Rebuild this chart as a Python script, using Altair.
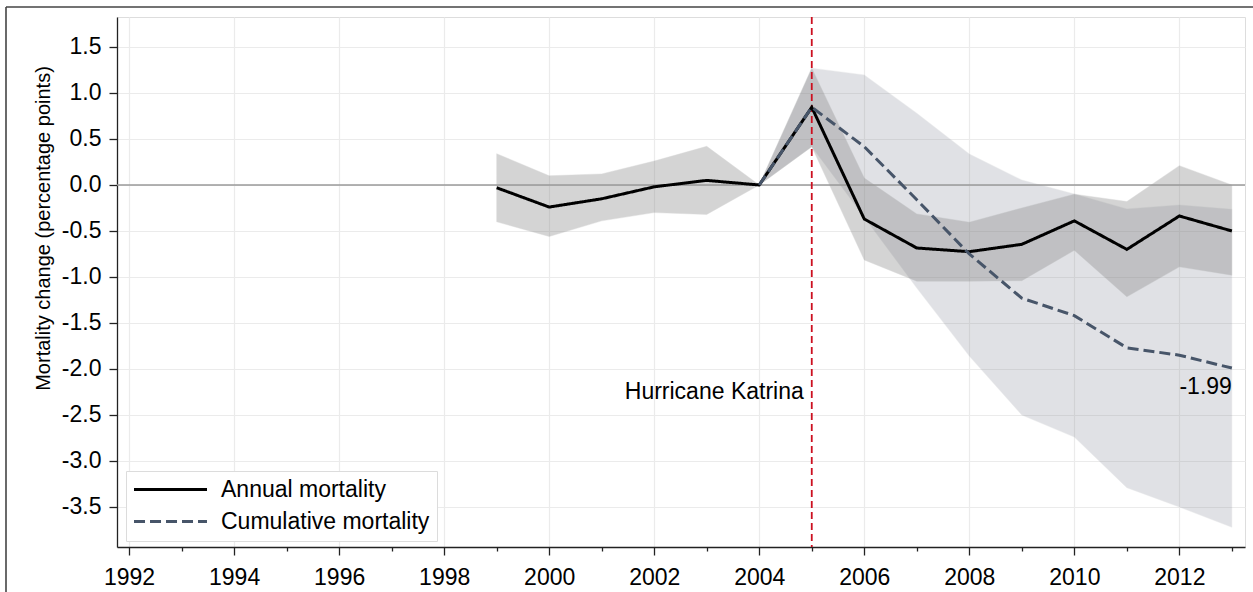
import altair as alt
import pandas as pd

# Annual mortality estimates with confidence band (percentage points, 2004 = reference year)
years_annual = list(range(1999, 2014))
annual = [-0.03, -0.24, -0.15, -0.02, 0.05, 0.0, 0.845, -0.37, -0.685, -0.725, -0.645, -0.39, -0.70, -0.337, -0.50]
annual_lo = [-0.40, -0.56, -0.39, -0.30, -0.32, 0.0, 0.416, -0.815, -1.045, -1.045, -1.04, -0.71, -1.215, -0.89, -0.98]
annual_hi = [0.34, 0.10, 0.12, 0.26, 0.42, 0.0, 1.27, 0.075, -0.315, -0.405, -0.25, -0.10, -0.18, 0.21, 0.0]

# Cumulative mortality estimates with confidence band
years_cum = list(range(2004, 2014))
cum = [0.0, 0.845, 0.416, -0.16, -0.75, -1.23, -1.42, -1.77, -1.85, -1.99]
cum_lo = [0.0, 0.416, -0.35, -1.12, -1.86, -2.50, -2.74, -3.29, -3.50, -3.72]
cum_hi = [0.0, 1.27, 1.196, 0.78, 0.337, 0.054, -0.098, -0.26, -0.217, -0.264]

series_names = ["Annual mortality", "Cumulative mortality"]
axis_years = list(range(1992, 2014))
y_ticks = [-3.5, -3.0, -2.5, -2.0, -1.5, -1.0, -0.5, 0.0, 0.5, 1.0, 1.5]

event_year = 2005
event_label = "Hurricane Katrina"

W, H = 1128, 530
FONT = "Liberation Sans"
FS = 23
AXIS_COLOR = "#222222"

annual_df = pd.DataFrame({"year": years_annual, "value": annual, "lo": annual_lo, "hi": annual_hi,
                          "series": series_names[0]})
cum_df = pd.DataFrame({"year": years_cum, "value": cum, "lo": cum_lo, "hi": cum_hi,
                       "series": series_names[1]})
lines_df = pd.concat([annual_df, cum_df], ignore_index=True)
end_df = cum_df.tail(1).assign(label=lambda d: d["value"].map(lambda v: f"{v:.2f}"))

x_scale = alt.Scale(domain=[1991.77, 2013.25], nice=False, zero=False)
y_scale = alt.Scale(domain=[-3.935, 1.826], nice=False, zero=False)

even = "datum.value % 2 === 0"

# every year gets a tick; even years are labelled, longer and gridded
x_enc = alt.X("year:Q", scale=x_scale, axis=alt.Axis(
    values=axis_years, format="d", title=None,
    labelExpr=f"{even} ? datum.label : ''",
    grid=True, gridColor="#ebebeb", gridWidth=1.2,
    gridOpacity={"condition": {"test": even, "value": 1}, "value": 0},
    tickSize={"condition": {"test": even, "value": 8}, "value": 4},
    tickColor=AXIS_COLOR, tickWidth=1.3, domainColor=AXIS_COLOR, domainWidth=1.3,
    labelFont=FONT, labelFontSize=FS, labelColor="#000000", labelPadding=11,
    labelOverlap=False))

# plain hyphen for negative tick labels
y_enc = alt.Y("lo:Q", scale=y_scale, axis=alt.Axis(
    values=y_ticks, title="Mortality change (percentage points)",
    labelExpr="(datum.value < 0 ? '-' : '') + format(abs(datum.value), '.1f')",
    grid=True, gridColor="#ebebeb", gridWidth=1.2, tickSize=8, tickColor=AXIS_COLOR, tickWidth=1.3,
    domainColor=AXIS_COLOR, domainWidth=1.3, labelFont=FONT, labelFontSize=FS, labelColor="#000000",
    labelPadding=8, titleFont=FONT, titleFontSize=20, titleFontWeight="normal", titleColor="#000000",
    titlePadding=8, titleY=211))

cum_band = alt.Chart(cum_df).mark_area(color="#6b7080", opacity=0.2, stroke="#8a8c96",
                                       strokeWidth=0.8, strokeOpacity=0.5).encode(
    x=x_enc, y=y_enc, y2="hi:Q")

annual_band = alt.Chart(annual_df).mark_area(color="#808080", opacity=0.33, stroke="#8a8a8a",
                                             strokeWidth=0.8, strokeOpacity=0.5).encode(
    x=alt.X("year:Q", scale=x_scale), y=alt.Y("lo:Q", scale=y_scale), y2="hi:Q")

zero_line = alt.Chart().mark_rule(color="#9a9a9a", strokeWidth=1.6).encode(y=alt.datum(0, scale=y_scale))

event_line = alt.Chart().mark_rule(color="#cc1020", strokeWidth=1.8, strokeDash=[7, 4]).encode(
    x=alt.datum(event_year, scale=x_scale))

event_text = alt.Chart().mark_text(align="right", baseline="middle", dx=-8, font=FONT, fontSize=FS,
                                   color="#000000").encode(
    x=alt.datum(event_year, scale=x_scale), y=alt.datum(-2.25, scale=y_scale), text=alt.value(event_label))

# long horizontal line symbol for the legend: path spans 10 units, scaled by sqrt(size)/2
legend_cfg = dict(
    title=None, orient="none", legendX=9, legendY=454, fillColor="#ffffff",
    strokeColor="#dcdcdc", padding=7, cornerRadius=0, symbolType="M-5,0H5",
    symbolSize=213, symbolStrokeWidth=3, symbolOffset=26, labelFont=FONT, labelFontSize=FS,
    labelColor="#000000", labelOffset=39, rowPadding=8, labelLimit=400)

lines = alt.Chart(lines_df).mark_line(strokeWidth=3).encode(
    x=alt.X("year:Q", scale=x_scale),
    y=alt.Y("value:Q", scale=y_scale),
    color=alt.Color("series:N", scale=alt.Scale(domain=series_names, range=["#000000", "#475569"]),
                    legend=alt.Legend(**legend_cfg)),
    strokeDash=alt.StrokeDash("series:N", scale=alt.Scale(domain=series_names, range=[[1, 0], [11, 5]]),
                              legend=alt.Legend(**legend_cfg)),
    detail="series:N")

end_text = alt.Chart(end_df).mark_text(align="right", baseline="middle", dy=19, font=FONT, fontSize=FS,
                                       color="#000000").encode(
    x=alt.X("year:Q", scale=x_scale), y=alt.Y("value:Q", scale=y_scale), text="label:N")

# figure frame (top and left edges)
frame_top = alt.Chart().mark_rule(color="#444444", strokeWidth=1.6).encode(
    x=alt.value(-111), x2=alt.value(1140), y=alt.value(-10))
frame_left = alt.Chart().mark_rule(color="#444444", strokeWidth=1.6).encode(
    x=alt.value(-111), y=alt.value(-10), y2=alt.value(H + 60))

chart = alt.layer(
    cum_band, annual_band, zero_line, event_line, lines, event_text, end_text,
    frame_top, frame_left
).properties(
    width=W, height=H,
    autosize=alt.AutoSizeParams(type="none"),
    padding={"left": 117, "top": 17, "right": 8, "bottom": 45},
).configure_view(stroke=None).configure(background="#ffffff")

chart.save("out.html", embed_options={"renderer": "svg", "actions": False})
